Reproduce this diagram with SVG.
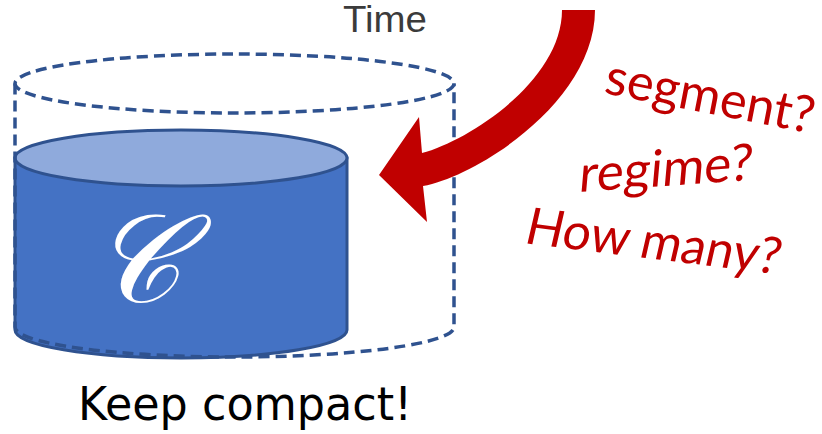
<svg xmlns="http://www.w3.org/2000/svg" width="822" height="434" viewBox="0 0 822 434">
<style>
.dash{fill:none;stroke:#2F528F;stroke-width:3.5;stroke-dasharray:11 6}
.cyl{stroke:#2F528F;stroke-width:3}
.red{font-family:Lato,"Open Sans",sans-serif;fill:#C00000;font-size:51px}
</style>
<rect width="822" height="434" fill="#ffffff"/>
<text id="time" x="343" y="32" font-family="Liberation Sans, Arial, sans-serif" font-size="36" fill="#3b3b3b" textLength="84" lengthAdjust="spacingAndGlyphs">Time</text>
<g id="cache">
<path class="cyl" fill="#4472C4" d="M15,158 L15,330 A166,28 0 0 0 347,330 L347,158 Z"/>
<ellipse class="cyl" fill="#8FAADC" cx="181" cy="158" rx="166" ry="28"/>
<text x="136" y="302" text-anchor="middle" font-family="DejaVu Serif, serif" font-style="italic" font-size="124" fill="#ffffff">𝒞</text>
</g>
<g id="window">
<ellipse class="dash" cx="234.5" cy="83.5" rx="219.5" ry="29.5"/>
<path class="dash" d="M15,83.5 L15,327 A219.5,30 0 0 0 454,327 L454,83.5"/>
</g>
<g id="connectors">
<path fill="#C00000" d="M562,10 L595,10 C595,100 480,175 423,186 L427,222 L379,175 L419,117 L422,153 C470,140 562,80 562,10 Z"/>
</g>
<g id="questions">
<text class="red" transform="translate(603,93) rotate(11)" textLength="212" lengthAdjust="spacingAndGlyphs">segment?</text>
<text class="red" transform="translate(578,192) rotate(-4) skewX(-9)" textLength="174" lengthAdjust="spacingAndGlyphs">regime?</text>
<text class="red" transform="translate(523,243) rotate(7) skewX(-6)" textLength="256" lengthAdjust="spacingAndGlyphs">How many?</text>
</g>
<text id="caption" x="78" y="420" font-family="DejaVu Sans, Verdana, sans-serif" font-size="47" fill="#000000" textLength="334" lengthAdjust="spacingAndGlyphs">Keep compact!</text>
</svg>
